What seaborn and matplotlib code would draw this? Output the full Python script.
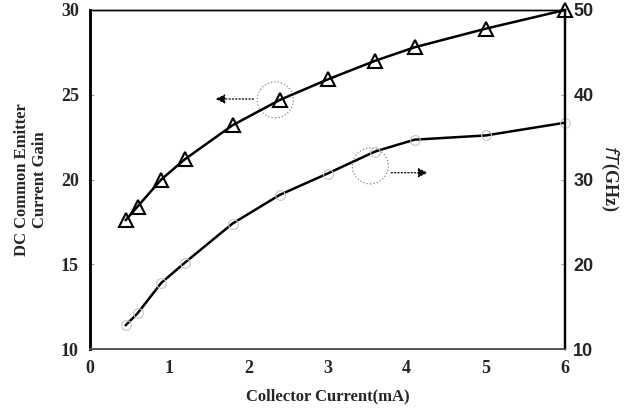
import matplotlib
matplotlib.use("Agg")
import matplotlib.pyplot as plt
import seaborn as sns
import pandas as pd
from matplotlib.patches import Ellipse

sns.set_theme(style="white")

# Data
current_gain_x = [0.45, 0.6, 0.9, 1.2, 1.8, 2.4, 3.0, 3.6, 4.1, 5.0, 6.0]
gain = [17.6, 18.4, 20.0, 21.2, 23.2, 24.7, 25.9, 27.0, 27.8, 28.9, 30.0]
current_ft_x = [0.45, 0.6, 0.9, 1.2, 1.8, 2.4, 3.0, 3.6, 4.1, 5.0, 6.0]
ft = [12.8, 14.2, 17.8, 20.2, 24.8, 28.2, 30.7, 33.3, 34.7, 35.2, 36.7]
x_ticks = [0, 1, 2, 3, 4, 5, 6]
left_ticks = [10, 15, 20, 25, 30]
right_ticks = [10, 20, 30, 40, 50]

df_gain = pd.DataFrame({"x": current_gain_x, "y": gain})
df_ft = pd.DataFrame({"x": current_ft_x, "y": ft})

fig = plt.figure(figsize=(6.34, 4.13), dpi=100)
ax = fig.add_axes([90/634, 1-349/413, 475/634, 339/413])
ax2 = ax.twinx()

sns.lineplot(data=df_gain, x="x", y="y", ax=ax, color="black", lw=1.8,
             marker="^", markersize=10, markerfacecolor="none",
             markeredgecolor="black", markeredgewidth=1.5, sort=False,
             clip_on=False, zorder=5)
sns.lineplot(data=df_ft, x="x", y="y", ax=ax2, color="black", lw=1.8, sort=False)
ax2.plot(current_ft_x, ft, ls="", marker="o", ms=7, mfc="none",
         mec="#c4c4c4", mew=0.8, clip_on=False)

ax.set_xlim(0, 6)
ax.set_ylim(10, 30)
ax2.set_ylim(10, 50)
ax.set_xticks(x_ticks)
ax.set_yticks(left_ticks)
ax2.set_yticks(right_ticks)

serif = ["Liberation Serif", "DejaVu Serif"]
sans = ["Liberation Sans", "DejaVu Sans"]
ax.set_xticklabels([str(t) for t in x_ticks], fontfamily=serif, fontweight="bold", fontsize=13)
ax.set_yticklabels([str(t) for t in left_ticks], fontfamily=serif, fontweight="bold", fontsize=13)
ax2.set_yticklabels([str(t) for t in right_ticks], fontfamily=sans, fontweight="bold", fontsize=13)

ax.tick_params(axis="both", direction="in", length=3, width=0.6, color="#888888", pad=8)
ax2.tick_params(axis="y", direction="in", length=3, width=0.6, color="#888888", pad=6)

ax.set_xlabel("Collector Current(mA)", fontfamily=serif, fontweight="bold", fontsize=12, labelpad=8)
ax.set_ylabel("")
ax2.set_ylabel("")
fig.text(31/634, 1-180/413, "DC Common Emitter\nCurrent Gain", rotation=90,
         ha="center", va="center", fontfamily=serif, fontweight="bold",
         fontsize=12, linespacing=1.15)
fig.text(610/634, 1-178/413, r"$\mathit{fT}$(GHz)", rotation=270,
         ha="center", va="center", fontfamily=serif, fontweight="bold", fontsize=13)

for a in (ax, ax2):
    a.spines["left"].set_color("black")
    a.spines["left"].set_linewidth(1.8)
    a.spines["right"].set_color("black")
    a.spines["right"].set_linewidth(1.6)
    a.spines["top"].set_color("black")
    a.spines["top"].set_linewidth(1.0)
    a.spines["bottom"].set_color("#555555")
    a.spines["bottom"].set_linewidth(1.2)

# annotation circles and arrows
ax.add_patch(Ellipse((2.34, 24.7), 36/79.17, 36/16.95, fill=False,
                     ls=":", lw=0.9, ec="#888888"))
ax.annotate("", xy=(1.55, 24.75), xytext=(2.1, 24.75),
            arrowprops=dict(arrowstyle="-|>", ls=":", color="black", lw=0.9,
                            mutation_scale=14))
ax2.add_patch(Ellipse((3.54, 31.6), 36/79.17, 36/8.475, fill=False,
                      ls=":", lw=0.9, ec="#888888"))
ax2.annotate("", xy=(4.3, 30.8), xytext=(3.77, 30.8),
             arrowprops=dict(arrowstyle="-|>", ls=":", color="black", lw=0.9,
                             mutation_scale=14))

fig.savefig("out.png", dpi=100)
